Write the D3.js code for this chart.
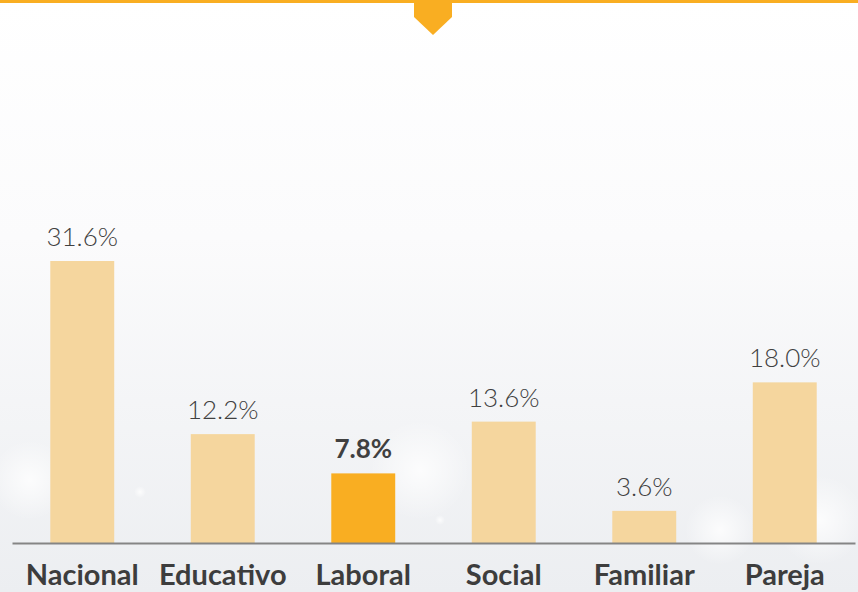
<!DOCTYPE html>
<html>
<head>
<meta charset="utf-8">
<script src="https://cdn.jsdelivr.net/npm/d3@7"></script>
<style>
  body { margin: 0; }
  svg { display: block; }
</style>
</head>
<body>
<svg id="plot" width="858" height="592"></svg>
<script>
const CATEGORIES = ['Nacional', 'Educativo', 'Laboral', 'Social', 'Familiar', 'Pareja'];
const VALUES = [31.6, 12.2, 7.8, 13.6, 3.6, 18.0];
const HIGHLIGHT = 'Laboral';

const W = 858, H = 592;
const BASE_Y = 543;

const svg = d3.select('#plot');

// background
const defs = svg.append('defs');
const grad = defs.append('linearGradient')
  .attr('id', 'bg').attr('x1', 0).attr('y1', 0).attr('x2', 0).attr('y2', 1);
grad.append('stop').attr('offset', '0%').attr('stop-color', '#ffffff');
grad.append('stop').attr('offset', '40%').attr('stop-color', '#fbfbfc');
grad.append('stop').attr('offset', '100%').attr('stop-color', '#eceef1');
const glow = defs.append('radialGradient').attr('id', 'glow');
glow.append('stop').attr('offset', '0%').attr('stop-color', '#ffffff').attr('stop-opacity', 0.8);
glow.append('stop').attr('offset', '100%').attr('stop-color', '#ffffff').attr('stop-opacity', 0);

svg.append('rect').attr('width', W).attr('height', H).attr('fill', 'url(#bg)');
// soft bokeh spots
[[30, 480, 40], [720, 530, 35], [820, 520, 45], [420, 470, 50], [140, 492, 6], [440, 520, 5]].forEach(c => {
  svg.append('circle').attr('cx', c[0]).attr('cy', c[1]).attr('r', c[2]).attr('fill', 'url(#glow)');
});

// top band + marker
svg.append('rect').attr('x', 0).attr('y', 0).attr('width', W).attr('height', 3).attr('fill', '#f9ae22');
svg.append('path')
  .attr('d', 'M414,0 L452,0 L452,17 L433,35 L414,17 Z')
  .attr('fill', '#f9ae22');

const x = d3.scaleBand()
  .domain(CATEGORIES)
  .range([12, 855])
  .paddingInner(0.545)
  .paddingOuter(0.2725);

const y = d3.scaleLinear()
  .domain([0, 31.6])
  .range([BASE_Y, 261]);

svg.selectAll('rect.bar')
  .data(CATEGORIES)
  .enter()
  .append('rect')
  .attr('class', 'bar')
  .attr('x', d => x(d))
  .attr('y', (d, i) => y(VALUES[i]))
  .attr('width', x.bandwidth())
  .attr('height', (d, i) => BASE_Y - y(VALUES[i]))
  .attr('fill', d => d === HIGHLIGHT ? '#f9ae22' : '#f5d69e');

// axis line
const axis = svg.append('g')
  .attr('transform', `translate(0, ${BASE_Y})`)
  .call(d3.axisBottom(x).tickSize(0).tickFormat(''));
axis.select('.domain').attr('stroke', '#858585').attr('stroke-width', 2);

// value labels
svg.selectAll('text.val')
  .data(CATEGORIES)
  .enter()
  .append('text')
  .attr('class', 'val')
  .attr('x', d => x(d) + x.bandwidth() / 2)
  .attr('y', (d, i) => y(VALUES[i]) - 15)
  .attr('text-anchor', 'middle')
  .attr('font-family', 'Lato, sans-serif')
  .attr('font-size', 26)
  .attr('font-weight', d => d === HIGHLIGHT ? 700 : 300)
  .attr('fill', '#404040')
  .text((d, i) => VALUES[i].toFixed(1) + '%');

// category labels
svg.selectAll('text.cat')
  .data(CATEGORIES)
  .enter()
  .append('text')
  .attr('class', 'cat')
  .attr('x', d => x(d) + x.bandwidth() / 2)
  .attr('y', 585)
  .attr('text-anchor', 'middle')
  .attr('font-family', 'Lato, sans-serif')
  .attr('font-size', 29)
  .attr('font-weight', 700)
  .attr('fill', '#3d3d3d')
  .text(d => d);
</script>
</body>
</html>
